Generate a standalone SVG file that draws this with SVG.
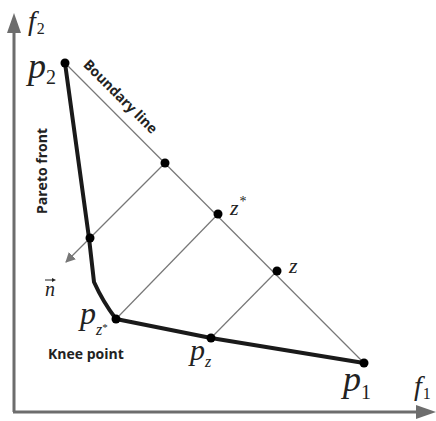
<svg xmlns="http://www.w3.org/2000/svg" width="436" height="421" viewBox="0 0 436 421">
<style>
.axis{stroke:#6d6d6d;stroke-width:3;fill:none}
.thin{stroke:#777;stroke-width:1.2;fill:none}
.front{stroke:#1a1a1a;stroke-width:4;fill:none;stroke-linejoin:round}
.dot{fill:#000}
.math{font-family:"Liberation Serif",serif;font-style:italic;fill:#222}
.sub{font-family:"Liberation Serif",serif;font-style:normal;fill:#222}
.lbl{font-family:"Open Sans","Liberation Sans",sans-serif;font-weight:bold;font-size:14px;fill:#222}
</style>
<defs>
<marker id="ah" markerWidth="10" markerHeight="10" refX="9" refY="5" orient="auto" markerUnits="userSpaceOnUse">
<path d="M0,0 L10,5 L0,10 z" fill="#777"/>
</marker>
</defs>
<g id="axes">
<path class="axis" d="M14,412 V30"/>
<path d="M7,33 L14,13 L21,33 z" fill="#6d6d6d"/>
<path class="axis" d="M13,412 H418"/>
<path d="M416,405 L436,412 L416,419 z" fill="#6d6d6d"/>
</g>
<g id="connectors">
<line class="thin" x1="65" y1="63" x2="364" y2="363"/>
<line class="thin" x1="165" y1="163" x2="66" y2="262" marker-end="url(#ah)"/>
<line class="thin" x1="218" y1="214" x2="116" y2="319"/>
<line class="thin" x1="277" y1="271" x2="211" y2="338"/>
<path class="front" d="M65,63 L89,238 L94,282 Q103,302 116,319 L211,338 L364,363"/>
</g>
<g id="p2"><circle class="dot" cx="65" cy="63" r="4.5"/><text class="math" x="28" y="78" font-size="36">p<tspan class="sub" dy="6" font-size="20">2</tspan></text></g>
<g id="p1"><circle class="dot" cx="364" cy="363" r="4.5"/><text class="math" x="343" y="391" font-size="36">p<tspan class="sub" dy="8" font-size="20">1</tspan></text></g>
<g id="b1"><circle class="dot" cx="165" cy="163" r="4.5"/></g>
<g id="zstar"><circle class="dot" cx="218" cy="214" r="4.5"/><text class="math" x="230" y="215" font-size="22">z<tspan class="sub" dx="1" dy="-9" font-size="14">*</tspan></text></g>
<g id="z"><circle class="dot" cx="277" cy="271" r="4.5"/><text class="math" x="289" y="273" font-size="22">z</text></g>
<g id="pf"><circle class="dot" cx="90" cy="238" r="4.5"/></g>
<g id="pzstar"><circle class="dot" cx="116" cy="319" r="4.5"/><text class="math" x="80" y="324" font-size="32">p<tspan dy="11" font-size="16">z</tspan><tspan class="sub" dy="-4" font-size="11">*</tspan></text></g>
<g id="pz"><circle class="dot" cx="211" cy="338" r="4.5"/><text class="math" x="190" y="360" font-size="30">p<tspan dy="7" font-size="16">z</tspan></text></g>
<g id="labels">
<text class="lbl" transform="translate(117,100) rotate(45)" text-anchor="middle">Boundary line</text>
<text class="lbl" transform="translate(47,171) rotate(-90)" text-anchor="middle">Pareto front</text>
<text class="lbl" x="48" y="359" font-size="14.5">Knee point</text>
<text class="math" x="45" y="296" font-size="20">n</text>
<path d="M45,280 H53" stroke="#222" stroke-width="1"/>
<path d="M52,278 L56,280 L52,282 z" fill="#222"/>
<text class="math" x="28" y="30" font-size="28">f<tspan class="sub" dx="1" dy="4" font-size="16">2</tspan></text>
<text class="math" x="414" y="395" font-size="28">f<tspan class="sub" dx="1" dy="4" font-size="16">1</tspan></text>
</g>
</svg>
